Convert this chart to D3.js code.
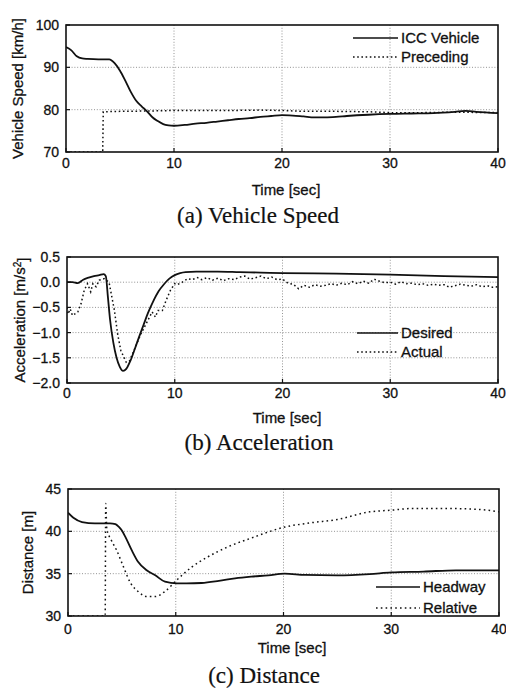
<!DOCTYPE html>
<html>
<head>
<meta charset="utf-8">
<script src="https://cdn.jsdelivr.net/npm/d3@7"></script>
<style>
  body { margin: 0; background: #fff; }
  svg text { font-family: "Liberation Sans", Arial, sans-serif; fill: #111; stroke: #111; stroke-width: 0.3px; }
  svg text.caption { font-family: "Liberation Serif", "Times New Roman", serif; stroke-width: 0.2px; }
</style>
</head>
<body>
<svg width="506" height="692"></svg>
<script>
const svg = d3.select("svg");

// (a) vehicle speed
const iccTime = [0,0.5,1,1.5,2,3,4,4.5,5,5.5,6,6.5,7,7.5,8,8.5,9,9.5,10,11,12,13,14,15,16,17,18,19,20,21,22,23,24,25,26,28,30,32,34,36,37,38,40];
const iccSpeed = [94.8,94.0,92.6,92.1,92.0,91.9,91.9,91.0,89.2,86.8,84.2,82.1,80.8,79.6,78.2,77.3,76.6,76.3,76.2,76.4,76.7,76.9,77.2,77.5,77.8,78.0,78.3,78.5,78.7,78.6,78.4,78.2,78.2,78.3,78.5,78.8,79.0,79.1,79.2,79.5,79.7,79.5,79.2];
const precTime = [0,3.4,3.45,5,8,10,12,15,18,20,22,25,28,30,33,36,40];
const precSpeed = [70,70,79.5,79.6,79.7,79.8,79.8,79.8,79.9,79.8,79.6,79.6,79.5,79.3,79.3,79.4,79.3];

// (b) acceleration
const desTime = [0,0.5,1,1.5,2,2.5,3,3.4,3.6,3.8,4.0,4.3,4.6,4.9,5.2,5.5,5.9,6.3,6.7,7.1,7.5,8,8.5,9,9.5,10,10.5,11,12,14,16,18,20,25,30,35,40];
const desAcc = [0,0,-0.02,0.05,0.09,0.12,0.14,0.16,0.12,-0.3,-0.75,-1.2,-1.5,-1.68,-1.76,-1.72,-1.55,-1.32,-1.08,-0.85,-0.62,-0.38,-0.18,-0.04,0.07,0.14,0.18,0.2,0.21,0.21,0.2,0.19,0.18,0.17,0.15,0.12,0.1];
const actTime = [0,0.1,0.3,0.5,0.8,1.0,1.3,1.6,1.9,2.2,2.4,2.7,3.0,3.45,3.9,4.4,4.7,5.0,5.5,5.8,6.2,6.85,7.5,7.9,8.2,8.45,8.85,9.2,9.6,10.0,10.2,10.7,11.2,11.6,12.1,12.5,
  13,13.5,14,14.5,15,15.5,16,16.5,17,17.5,18,18.5,19,19.5,20,20.5,21,21.5,22,22.5,23,23.5,24,24.5,25,25.5,26,26.5,27,27.5,
  28,28.5,29,29.5,30,30.5,31,31.5,32,32.5,33,33.5,34,34.5,35,35.5,36,36.5,37,37.5,38,38.5,39,39.5,40];
const actAcc = [-0.5,-0.63,-0.53,-0.66,-0.62,-0.59,-0.43,-0.16,-0.03,-0.19,-0.03,-0.09,0.04,0.07,0.0,-0.56,-1.03,-1.36,-1.59,-1.56,-1.36,-1.03,-0.76,-0.59,-0.69,-0.56,-0.56,-0.36,-0.16,-0.03,-0.05,0.0,0.07,0.05,0.09,0.05,
  0.09,0.04,0.08,0.03,0.07,0.05,0.1,0.12,0.06,0.09,0.12,0.07,0.1,0.05,0.06,-0.02,-0.04,-0.13,-0.06,-0.1,-0.05,-0.08,-0.06,-0.03,-0.06,-0.02,-0.05,0.01,-0.03,0.02,
  -0.02,0.06,0.02,-0.01,0.0,-0.04,0.01,-0.03,-0.02,-0.05,-0.03,-0.06,-0.04,-0.06,-0.05,-0.1,-0.07,-0.04,-0.06,-0.08,-0.05,-0.09,-0.07,-0.1,-0.09];

// (c) distance
const hwTime = [0,0.5,1.3,2.5,3.9,4.4,4.7,5.0,5.3,5.9,6.5,7.3,8.1,9.0,10.1,11,12.4,14,15.5,17,18.6,20.1,22,25,28,30,33,36,40];
const headway = [42.2,41.6,41.1,40.95,40.95,40.85,40.55,40.1,39.4,37.8,36.4,35.4,34.8,34.05,33.85,33.85,33.9,34.15,34.45,34.65,34.8,35.0,34.85,34.8,34.95,35.15,35.25,35.4,35.4];
const relTime = [0,3.45,3.5,3.6,4.0,4.5,5.15,5.8,6.5,7.3,8.1,9.0,10.1,11.5,13,14.9,17,20.1,22.5,25,28,30,32,35,38,40];
const relative = [30,30,43.3,40.3,39.0,37.8,35.8,33.9,32.9,32.3,32.3,32.9,34.25,35.8,37.0,38.2,39.2,40.5,41.0,41.4,42.3,42.5,42.7,42.7,42.6,42.3];

const xTicks = [0,10,20,30,40];

const panels = [
  { left: 66, right: 498, top: 25, bottom: 152, yDomain: [70,100], yTicks: [70,80,90,100], fmt: d3.format("d"),
    yLabel: ["Vehicle Speed [km/h]"], yLabelX: 18, tickDy: 16, timeY: 195, timeX: 286, capY: 223, capX: 258,
    caption: "(a) Vehicle Speed",
    series: [
      { t: iccTime, v: iccSpeed, name: "ICC Vehicle", dash: null, curve: d3.curveMonotoneX },
      { t: precTime, v: precSpeed, name: "Preceding", dash: "1.6,2.6", curve: d3.curveLinear }
    ],
    legX: 353, legLen: 45, legY: [38, 57] },
  { left: 67, right: 498, top: 257, bottom: 383, yDomain: [-2,0.5], yTicks: [-2,-1.5,-1,-0.5,0,0.5], fmt: d3.format(".1f"),
    yLabel: ["Acceleration [m/s", "2", "]"], yLabelX: 20, tickDy: 15, timeY: 423, timeX: 287, capY: 450, capX: 259,
    caption: "(b) Acceleration",
    series: [
      { t: desTime, v: desAcc, name: "Desired", dash: null, curve: d3.curveMonotoneX },
      { t: actTime, v: actAcc, name: "Actual", dash: "1.6,2.6", curve: d3.curveLinear }
    ],
    legX: 357, legLen: 41, legY: [333, 352] },
  { left: 68, right: 499, top: 489, bottom: 616, yDomain: [30,45], yTicks: [30,35,40,45], fmt: d3.format("d"),
    yLabel: ["Distance [m]"], yLabelX: 28, tickDy: 18, timeY: 653, timeX: 292, capY: 683, capX: 264,
    caption: "(c) Distance",
    series: [
      { t: hwTime, v: headway, name: "Headway", dash: null, curve: d3.curveMonotoneX },
      { t: relTime, v: relative, name: "Relative", dash: "1.6,3.2", curve: d3.curveMonotoneX }
    ],
    legX: 376, legLen: 44, legY: [587, 608] }
];

panels.forEach((p, i) => {
  const x = d3.scaleLinear().domain([0, 40]).range([p.left, p.right]);
  const y = d3.scaleLinear().domain(p.yDomain).range([p.bottom, p.top]);
  const g = svg.append("g");

  const clipId = "clip" + i;
  svg.append("clipPath").attr("id", clipId).append("rect")
    .attr("x", p.left).attr("y", p.top)
    .attr("width", p.right - p.left).attr("height", p.bottom - p.top);

  // grid
  g.selectAll(".gx").data(xTicks.slice(1, -1)).enter().append("line")
    .attr("x1", d => x(d)).attr("x2", d => x(d))
    .attr("y1", p.top).attr("y2", p.bottom)
    .attr("stroke", "#888").attr("stroke-width", 0.9).attr("stroke-dasharray", "1,1.8");
  g.selectAll(".gy").data(p.yTicks.slice(1, -1)).enter().append("line")
    .attr("x1", p.left).attr("x2", p.right)
    .attr("y1", d => y(d)).attr("y2", d => y(d))
    .attr("stroke", "#888").attr("stroke-width", 0.9).attr("stroke-dasharray", "1,1.8");

  // series
  p.series.forEach(s => {
    const pts = s.t.map((t, k) => [t, s.v[k]]);
    const line = d3.line().x(d => x(d[0])).y(d => y(d[1])).curve(s.curve);
    g.append("path").datum(pts)
      .attr("clip-path", `url(#${clipId})`)
      .attr("d", line)
      .attr("fill", "none")
      .attr("stroke", "#111")
      .attr("stroke-width", s.dash ? 1.5 : 1.8)
      .attr("stroke-dasharray", s.dash);
  });

  // frame
  g.append("rect")
    .attr("x", p.left).attr("y", p.top)
    .attr("width", p.right - p.left).attr("height", p.bottom - p.top)
    .attr("fill", "none").attr("stroke", "#111").attr("stroke-width", 1.6);

  // inner ticks
  g.selectAll(".tx").data(xTicks).enter().append("line")
    .attr("x1", d => x(d)).attr("x2", d => x(d))
    .attr("y1", p.bottom).attr("y2", p.bottom - 4)
    .attr("stroke", "#111").attr("stroke-width", 1.2);
  g.selectAll(".ty").data(p.yTicks).enter().append("line")
    .attr("x1", p.left).attr("x2", p.left + 4)
    .attr("y1", d => y(d)).attr("y2", d => y(d))
    .attr("stroke", "#111").attr("stroke-width", 1.2);

  // tick labels
  g.selectAll(".lx").data(xTicks).enter().append("text")
    .attr("x", d => x(d)).attr("y", p.bottom + p.tickDy)
    .attr("text-anchor", "middle").attr("font-size", 14)
    .text(d => d);
  g.selectAll(".ly").data(p.yTicks).enter().append("text")
    .attr("x", p.left - 7).attr("y", d => y(d) + 5)
    .attr("text-anchor", "end").attr("font-size", 14)
    .text(d => p.fmt(d));

  // axis titles
  g.append("text").attr("x", p.timeX).attr("y", p.timeY)
    .attr("text-anchor", "middle").attr("font-size", 15).text("Time [sec]");
  const yl = g.append("text")
    .attr("transform", `translate(${p.yLabelX},${(p.top + p.bottom) / 2}) rotate(-90)`)
    .attr("text-anchor", "middle").attr("dy", "0.35em").attr("font-size", 15);
  yl.append("tspan").text(p.yLabel[0]);
  if (p.yLabel.length > 1) {
    yl.append("tspan").attr("dy", "-0.45em").attr("font-size", 10).text(p.yLabel[1]);
    yl.append("tspan").attr("dy", "0.45em").text(p.yLabel[2]);
  }

  // legend
  p.series.forEach((s, k) => {
    g.append("line")
      .attr("x1", p.legX).attr("x2", p.legX + p.legLen)
      .attr("y1", p.legY[k]).attr("y2", p.legY[k])
      .attr("stroke", "#111").attr("stroke-width", s.dash ? 1.5 : 1.6)
      .attr("stroke-dasharray", s.dash);
    g.append("text").attr("x", p.legX + p.legLen + 3).attr("y", p.legY[k] + 5)
      .attr("font-size", 15).text(s.name);
  });

  // caption
  g.append("text").attr("class", "caption")
    .attr("x", p.capX).attr("y", p.capY)
    .attr("text-anchor", "middle").attr("font-size", 23)
    .text(p.caption);
});
</script>
</body>
</html>
